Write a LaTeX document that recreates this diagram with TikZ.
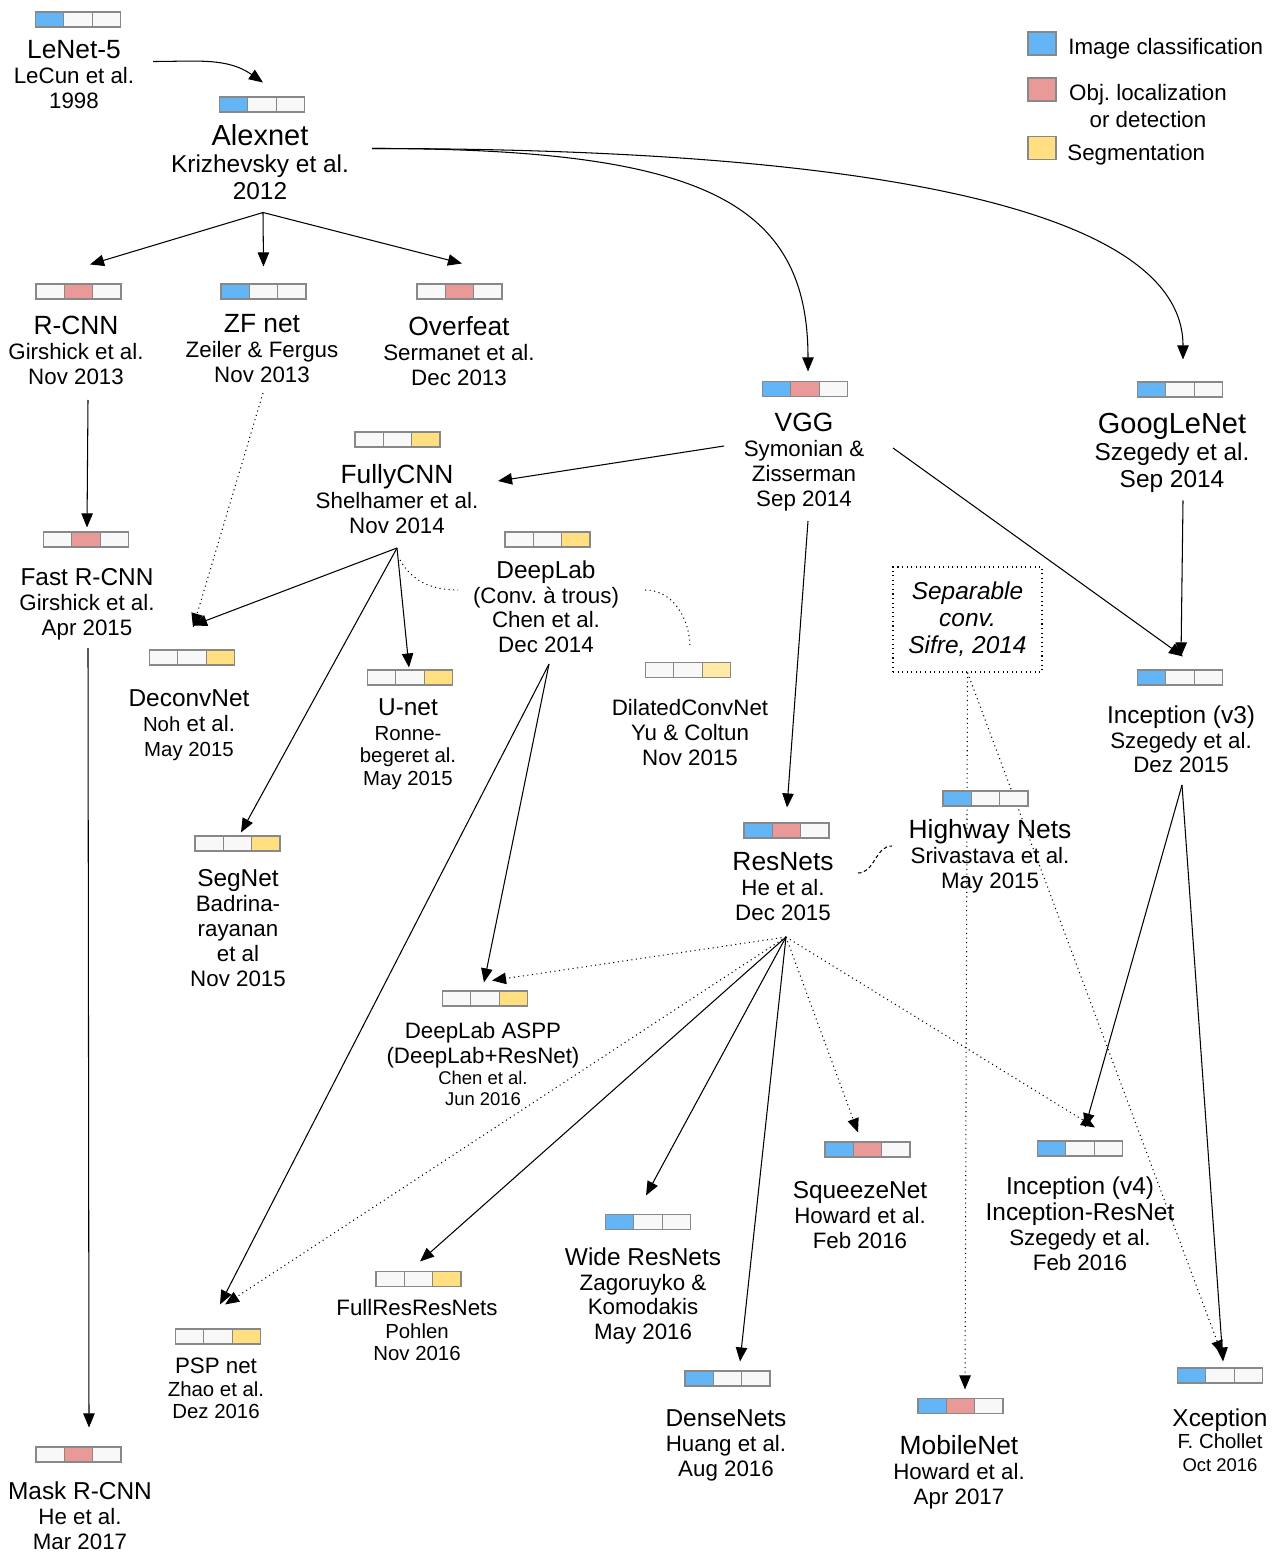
\documentclass[tikz,border=0pt]{standalone}
\usepackage{fontspec}
\setmainfont{Liberation Sans}
\usetikzlibrary{arrows.meta,shapes.multipart,backgrounds}
\frenchspacing

\definecolor{cls}{RGB}{100,181,246}
\definecolor{loc}{RGB}{234,153,153}
\definecolor{seg}{RGB}{255,223,128}
\definecolor{segl}{RGB}{255,234,168}
\definecolor{emp}{RGB}{248,248,248}
\definecolor{bargray}{RGB}{136,136,136}

\newcommand{\sza}{\fontsize{16.5}{18.5}\selectfont}
\newcommand{\szb}{\fontsize{15}{17}\selectfont}
\newcommand{\szc}{\fontsize{13.9}{15.4}\selectfont}
\newcommand{\szd}{\fontsize{12.7}{14.2}\selectfont}
\newcommand{\sze}{\fontsize{11.6}{12.8}\selectfont}
\newcommand{\szf}{\fontsize{10.5}{12}\selectfont}

\begin{document}
\begin{tikzpicture}[
  netbar/.style={rectangle split, rectangle split horizontal, rectangle split parts=3,
    draw=bargray, line width=0.6pt, inner sep=0pt,
    rectangle split empty part width=0.367cm, rectangle split empty part height=0.3cm,
    rectangle split empty part depth=0pt, rectangle split part fill={#1}},
  net/.style={anchor=north, align=center, inner sep=0pt, font=\szd},
  legbox/.style={draw=bargray, line width=0.6pt, minimum width=0.56cm, minimum height=0.46cm, inner sep=0pt},
  arr/.style={line width=0.6pt, -{Triangle[length=8pt,width=6.5pt]}},
  dotline/.style={line width=0.6pt, dash pattern=on 0.6pt off 2pt},
]
\useasboundingbox (0,0) rectangle (25.64,-31.04);

\node[legbox, fill=cls] (leg-cls) at (20.84,-0.87) {};
\node[legbox, fill=loc] (leg-loc) at (20.84,-1.79) {};
\node[legbox, fill=seg] (leg-seg) at (20.84,-2.96) {};
\node[anchor=west, inner sep=0pt, font=\szd] (leg-cls-t) at (21.36,-0.97) {Image classification};
\node[align=center, inner sep=0pt, font=\szd] (leg-loc-t) at (22.96,-2.12) {Obj. localization\\[1.5pt]or detection};
\node[anchor=west, inner sep=0pt, font=\szd] (leg-seg-t) at (21.34,-3.09) {Segmentation};

\node[netbar={cls,emp,emp}] (lenet-b) at (1.56,-0.39) {};
\node[net] (lenet) at (1.48,-0.81) {{\szb LeNet-5}\\LeCun et al.\\1998};
\node[netbar={cls,emp,emp}] (alexnet-b) at (5.24,-2.09) {};
\node[net, font=\szc] (alexnet) at (5.20,-2.49) {{\sza Alexnet}\\Krizhevsky et al.\\2012};
\node[netbar={emp,loc,emp}] (rcnn-b) at (1.57,-5.83) {};
\node[net] (rcnn) at (1.52,-6.32) {{\szb R-CNN}\\Girshick et al.\\Nov 2013};
\node[netbar={cls,emp,emp}] (zfnet-b) at (5.27,-5.83) {};
\node[net] (zfnet) at (5.24,-6.28) {{\szb ZF net}\\Zeiler \& Fergus\\Nov 2013};
\node[netbar={emp,loc,emp}] (overfeat-b) at (9.19,-5.83) {};
\node[net] (overfeat) at (9.18,-6.32) {{\szb Overfeat}\\Sermanet et al.\\Dec 2013};
\node[netbar={cls,loc,emp}] (vgg-b) at (16.10,-7.78) {};
\node[net] (vgg) at (16.08,-8.26) {{\szb VGG}\\Symonian \&\\Zisserman\\Sep 2014};
\node[netbar={cls,emp,emp}] (googlenet-b) at (23.60,-7.79) {};
\node[net, font=\szc] (googlenet) at (23.44,-8.25) {{\sza GoogLeNet}\\Szegedy et al.\\Sep 2014};
\node[netbar={emp,emp,seg}] (fullycnn-b) at (7.95,-8.79) {};
\node[net] (fullycnn) at (7.94,-9.28) {{\szb FullyCNN}\\Shelhamer et al.\\Nov 2014};
\node[netbar={emp,loc,emp}] (fastrcnn-b) at (1.72,-10.79) {};
\node[net] (fastrcnn) at (1.74,-11.36) {{\szc Fast R-CNN}\\Girshick et al.\\Apr 2015};
\node[netbar={emp,emp,seg}] (deeplab-b) at (10.95,-10.79) {};
\node[net] (deeplab) at (10.92,-11.20) {{\szc DeepLab}\\(Conv. à trous)\\Chen et al.\\Dec 2014};
\node[netbar={emp,emp,seg}] (deconvnet-b) at (3.84,-13.15) {};
\node[net] (deconvnet) at (3.78,-13.78) {{\szc DeconvNet}\\{\sze Noh} et al.\\{\sze May 2015}};
\node[netbar={emp,emp,seg}] (unet-b) at (8.20,-13.55) {};
\node[net, font=\sze] (unet) at (8.16,-13.96) {{\szc U-net}\\[1.5pt]Ronne-\\begeret al.\\May 2015};
\node[netbar={emp,emp,segl}] (dilated-b) at (13.76,-13.40) {};
\node[net] (dilated) at (13.80,-13.98) {DilatedConvNet\\Yu \& Coltun\\Nov 2015};
\node[draw, dotline, font=\szc\itshape, align=center, minimum width=2.98cm, minimum height=2.1cm, inner sep=0pt] (sepconv) at (19.35,-12.39) {Separable\\conv.\\Sifre, 2014};
\node[netbar={cls,emp,emp}] (incv3-b) at (23.60,-13.55) {};
\node[net] (incv3) at (23.62,-14.10) {{\szc Inception (v3)}\\Szegedy et al.\\Dez 2015};
\node[netbar={cls,emp,emp}] (highway-b) at (19.71,-15.97) {};
\node[net] (highway) at (19.80,-16.39) {{\szb Highway Nets}\\Srivastava et al.\\May 2015};
\node[netbar={cls,loc,emp}] (resnets-b) at (15.73,-16.61) {};
\node[net] (resnets) at (15.66,-17.05) {{\szb ResNets}\\He et al.\\Dec 2015};
\node[netbar={emp,emp,seg}] (segnet-b) at (4.75,-16.87) {};
\node[net] (segnet) at (4.76,-17.38) {{\szc SegNet}\\Badrina-\\rayanan\\et al\\Nov 2015};
\node[netbar={emp,emp,seg}] (aspp-b) at (9.70,-19.97) {};
\node[net, font=\szf] (aspp) at (9.66,-20.44) {{\szd DeepLab ASPP}\\[2pt]{\szd (DeepLab+ResNet)}\\Chen et al.\\Jun 2016};
\node[netbar={cls,loc,emp}] (squeeze-b) at (17.35,-22.99) {};
\node[net] (squeeze) at (17.20,-23.62) {{\szc SqueezeNet}\\Howard et al.\\Feb 2016};
\node[netbar={cls,emp,emp}] (incv4-b) at (21.60,-22.97) {};
\node[net] (incv4) at (21.60,-23.52) {{\szc Inception (v4)}\\[1pt]{\szc Inception-ResNet}\\Szegedy et al.\\Feb 2016};
\node[netbar={cls,emp,emp}] (wide-b) at (12.96,-24.44) {};
\node[net] (wide) at (12.86,-24.94) {{\szc Wide ResNets}\\Zagoruyko \&\\Komodakis\\May 2016};
\node[netbar={emp,emp,seg}] (fullres-b) at (8.37,-25.58) {};
\node[net, font=\sze] (fullres) at (8.34,-25.98) {{\szd FullResResNets}\\Pohlen\\Nov 2016};
\node[netbar={emp,emp,seg}] (psp-b) at (4.36,-26.73) {};
\node[net, font=\sze] (psp) at (4.32,-27.16) {{\szd PSP net}\\Zhao et al.\\Dez 2016};
\node[netbar={cls,emp,emp}] (dense-b) at (14.55,-27.57) {};
\node[net] (dense) at (14.52,-28.18) {{\szc DenseNets}\\Huang et al.\\Aug 2016};
\node[netbar={cls,loc,emp}] (mobile-b) at (19.21,-28.12) {};
\node[net] (mobile) at (19.18,-28.71) {{\szb MobileNet}\\Howard et al.\\Apr 2017};
\node[netbar={cls,emp,emp}] (xception-b) at (24.40,-27.51) {};
\node[net, font=\sze] (xception) at (24.40,-28.16) {{\szc Xception}\\F. Chollet\\{\szf Oct 2016}};
\node[netbar={emp,loc,emp}] (mask-b) at (1.57,-29.09) {};
\node[net] (mask) at (1.60,-29.63) {{\szc Mask R-CNN}\\He et al.\\Mar 2017};

\begin{scope}[on background layer]
\draw[arr] ([shift={(1.58,-0.42)}]lenet.north) to[out=0,in=145] ([shift={(0.02,0.28)}]alexnet-b.north);
\draw[arr] ([shift={(2.24,-0.48)}]alexnet.north) to[out=0,in=90,out distance=6.6cm,in distance=3.4cm] ([shift={(0.06,0.19)}]vgg-b.north);
\draw[arr] ([shift={(2.24,-0.48)}]alexnet.north) to[out=0,in=90,out distance=10cm,in distance=3cm] ([shift={(0.06,0.44)}]googlenet-b.north);
\draw[arr] ([shift={(0.06,-1.76)}]alexnet.north) -- ([shift={(0.23,0.38)}]rcnn-b.north);
\draw[arr] ([shift={(0.06,-1.76)}]alexnet.north) -- ([shift={(0,0.34)}]zfnet-b.north);
\draw[arr] ([shift={(0.06,-1.76)}]alexnet.north) -- ([shift={(0.05,0.40)}]overfeat-b.north);
\draw[arr] ([shift={(0.24,-1.68)}]rcnn.north) -- ([shift={(0.02,0.08)}]fastrcnn-b.north);
\draw[arr] ([shift={(0.02,-1.60)}]fastrcnn.north) -- ([shift={(0.21,0.38)}]mask-b.north);
\draw[arr, dotline] ([shift={(0.02,-1.58)}]zfnet.north) -- ([shift={(0.02,0.44)}]deconvnet-b.north);
\draw[arr] ([shift={(-1.60,-0.66)}]vgg.north) -- ([shift={(2.02,-0.34)}]fullycnn.north);
\draw[arr] ([shift={(0.08,-2.16)}]vgg.north) -- ([shift={(0.01,0.30)}]resnets-b.north);
\draw[arr] ([shift={(1.78,-0.70)}]vgg.north) -- ([shift={(0.06,0.26)}]incv3-b.north);
\draw[arr] ([shift={(0.22,-1.76)}]googlenet.north) -- ([shift={(0.02,0.26)}]incv3-b.north);
\draw[arr] ([shift={(0,-1.68)}]fullycnn.north) -- ([shift={(0.02,0.48)}]deconvnet-b.north);
\draw[arr] ([shift={(0,-1.68)}]fullycnn.north) -- ([shift={(0.07,0.06)}]segnet-b.north);
\draw[arr] ([shift={(0,-1.68)}]fullycnn.north) -- ([shift={(-0.02,0.04)}]unet-b.north);
\draw[dotline] ([shift={(0.06,-1.92)}]fullycnn.north) to[out=-60,in=180] ([shift={(-1.76,-0.60)}]deeplab.north);
\draw[dotline] ([shift={(1.98,-0.60)}]deeplab.north) to[out=0,in=90] ([shift={(0.04,0.28)}]dilated-b.north);
\draw[arr] ([shift={(0.06,-2.08)}]deeplab.north) -- ([shift={(0.04,0.48)}]psp-b.north);
\draw[arr] ([shift={(0.06,-2.08)}]deeplab.north) -- ([shift={(-0.02,0.16)}]aspp-b.north);
\draw[arr, dotline] ([shift={(0.06,-1.69)}]resnets.north) -- ([shift={(0.14,0.20)}]aspp-b.north);
\draw[arr, dotline] ([shift={(0.06,-1.69)}]resnets.north) -- ([shift={(0.14,0.48)}]psp-b.north);
\draw[arr] ([shift={(0.06,-1.69)}]resnets.north) -- ([shift={(0.03,0.19)}]fullres-b.north);
\draw[arr] ([shift={(0.06,-1.69)}]resnets.north) -- ([shift={(-0.04,0.37)}]wide-b.north);
\draw[arr] ([shift={(0.06,-1.69)}]resnets.north) -- ([shift={(0.25,0.18)}]dense-b.north);
\draw[arr, dotline] ([shift={(0.06,-1.69)}]resnets.north) -- ([shift={(-0.19,0.18)}]squeeze-b.north);
\draw[arr, dotline] ([shift={(0.06,-1.69)}]resnets.north) -- ([shift={(0.30,0.26)}]incv4-b.north);
\draw[arr] ([shift={(0.02,-1.60)}]incv3.north) -- ([shift={(0.10,0.26)}]incv4-b.north);
\draw[arr] ([shift={(0.02,-1.60)}]incv3.north) -- ([shift={(0.06,0.12)}]xception-b.north);
\draw[arr, dotline] (sepconv.south) -- ([shift={(0.09,0.17)}]mobile-b.north);
\draw[arr, dotline] (sepconv.south) -- ([shift={(0.04,0.26)}]xception-b.north);
\draw[line width=0.6pt, dash pattern=on 2pt off 1.5pt] ([shift={(1.50,-0.41)}]resnets.north) to[out=0,in=180] ([shift={(-1.96,-0.53)}]highway.north);
\end{scope}
\end{tikzpicture}
\end{document}
